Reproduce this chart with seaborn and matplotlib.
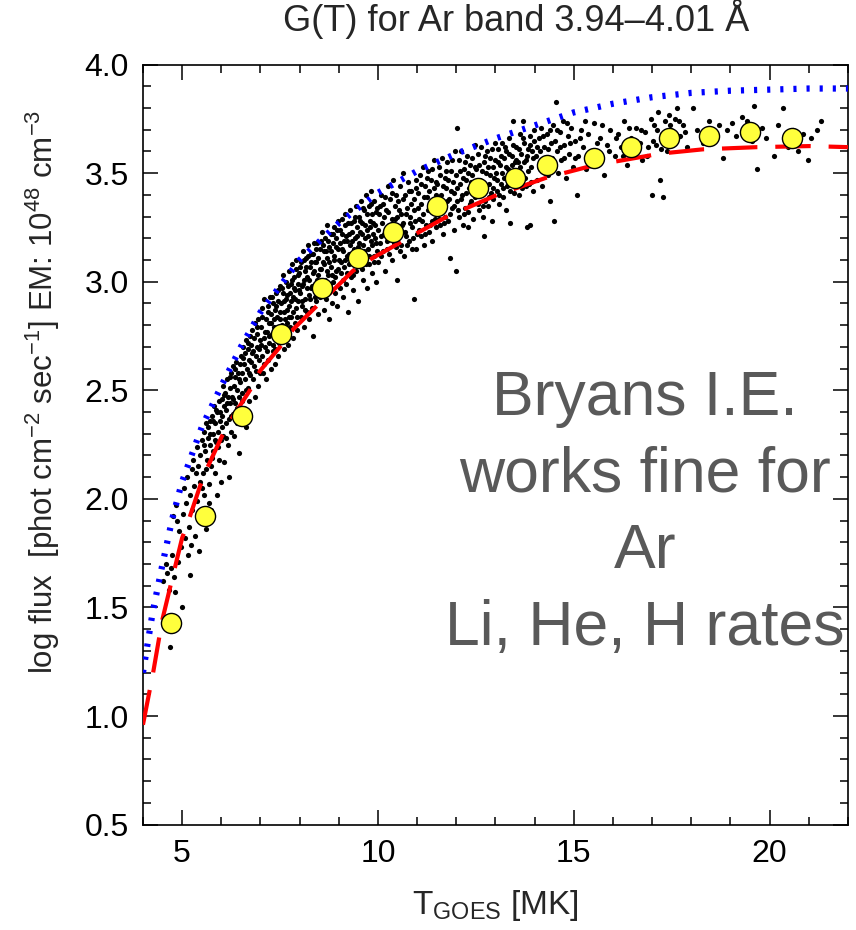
import matplotlib
matplotlib.use("Agg")
import numpy as np
import pandas as pd
import seaborn as sns
import matplotlib.pyplot as plt
from matplotlib.ticker import MultipleLocator, FormatStrFormatter

# binned medians (yellow circles)
bin_t = [4.71, 5.58, 6.53, 7.52, 8.57, 9.49, 10.38, 11.51, 12.55, 13.50,
         14.31, 15.51, 16.46, 17.43, 18.45, 19.50, 20.57]
bin_flux = [1.43, 1.92, 2.38, 2.76, 2.97, 3.11, 3.23, 3.35, 3.43, 3.48,
            3.54, 3.57, 3.62, 3.66, 3.67, 3.69, 3.66]

# blue dotted curve
blue_t = [4.0, 4.25, 4.5, 4.75, 5.0, 5.5, 6.0, 6.5, 7.0, 7.5, 8.0, 9.0, 10.0,
          11.0, 12.0, 13.0, 14.0, 15.0, 16.0, 17.0, 18.0, 19.0, 20.0, 21.0, 22.0]
blue_flux = [1.20, 1.48, 1.70, 1.91, 2.08, 2.33, 2.52, 2.70, 2.86, 2.98, 3.10,
             3.27, 3.41, 3.51, 3.59, 3.66, 3.72, 3.78, 3.82, 3.85, 3.87, 3.88,
             3.885, 3.89, 3.89]

# red dashed curve
red_t = [4.0, 4.26, 4.49, 4.69, 5.0, 5.2, 5.46, 5.66, 6.02, 6.3, 6.73, 6.99,
         7.5, 7.83, 8.39, 8.85, 9.36, 9.87, 10.56, 11.76, 13.04, 14.31, 15.59,
         16.1, 17.2, 18.3, 19.68, 21.03, 22.0]
red_flux = [0.96, 1.20, 1.44, 1.59, 1.82, 1.92, 2.06, 2.15, 2.29, 2.38, 2.50,
            2.59, 2.70, 2.78, 2.88, 2.96, 3.05, 3.11, 3.18, 3.30, 3.40, 3.48,
            3.54, 3.555, 3.59, 3.61, 3.62, 3.625, 3.62]

# individual flare points (T, log flux)
cloud_cool = [
    (4.52, 1.62), (4.58, 1.70), (4.61, 1.66), (4.66, 1.58), (4.69, 1.32), (4.72, 1.68), (4.74, 1.74),
    (4.77, 1.92), (4.79, 1.64), (4.82, 1.57), (4.84, 1.97), (4.87, 1.90), (4.90, 1.71), (4.93, 1.85),
    (4.96, 1.78), (4.99, 1.50), (5.02, 1.93), (5.04, 2.05), (5.07, 1.82), (5.09, 1.98), (5.12, 2.10),
    (5.15, 1.74), (5.18, 1.87), (5.20, 1.65), (5.21, 2.02), (5.23, 1.79), (5.24, 2.14), (5.26, 1.95),
    (5.28, 2.18), (5.30, 2.06), (5.32, 1.83), (5.35, 2.12), (5.37, 2.24), (5.39, 1.99), (5.41, 2.15),
    (5.43, 1.76), (5.45, 2.08), (5.46, 2.20), (5.48, 1.90), (5.51, 2.27), (5.53, 2.12), (5.55, 2.31),
    (5.57, 2.02), (5.58, 2.22), (5.60, 2.35), (5.62, 1.86), (5.64, 2.18), (5.66, 2.28), (5.68, 2.07),
    (5.70, 2.36), (5.71, 2.25), (5.73, 1.95), (5.74, 2.15), (5.76, 2.38), (5.78, 2.30), (5.79, 2.22),
    (5.81, 2.43), (5.83, 2.12), (5.85, 2.35), (5.86, 2.26), (5.88, 2.02), (5.90, 2.40), (5.91, 2.31),
    (5.93, 2.18), (5.95, 2.45), (5.96, 2.36), (5.98, 2.27), (5.99, 2.08), (6.01, 2.46), (6.02, 2.38),
    (6.04, 2.52), (6.05, 2.29), (6.07, 2.43), (6.08, 2.17), (6.10, 2.49), (6.11, 2.35), (6.13, 2.41),
    (6.14, 2.55), (6.16, 2.25), (6.17, 2.47), (6.19, 2.37), (6.20, 2.10), (6.22, 2.51), (6.23, 2.44),
    (6.24, 2.31), (6.26, 2.58), (6.27, 2.47), (6.29, 2.39), (6.30, 2.61), (6.32, 2.52), (6.33, 2.29),
    (6.35, 2.56), (6.36, 2.44), (6.38, 2.63), (6.39, 2.35), (6.41, 2.50), (6.42, 2.58), (6.44, 2.21),
    (6.45, 2.47), (6.47, 2.62), (6.48, 2.40), (6.49, 2.54), (6.51, 2.66), (6.52, 2.58), (6.54, 2.49),
    (6.55, 2.70), (6.57, 2.62), (6.58, 2.42), (6.60, 2.67), (6.61, 2.55), (6.63, 2.73), (6.64, 2.33),
    (6.66, 2.60), (6.67, 2.69), (6.69, 2.51), (6.70, 2.64), (6.72, 2.45), (6.73, 2.75), (6.74, 2.57),
    (6.76, 2.71), (6.77, 2.63), (6.79, 2.78), (6.80, 2.55), (6.82, 2.68), (6.83, 2.74), (6.85, 2.47),
    (6.86, 2.81), (6.88, 2.66), (6.89, 2.59), (6.91, 2.76), (6.92, 2.70), (6.94, 2.52), (6.95, 2.83),
    (6.97, 2.64), (6.98, 2.73), (6.99, 2.58),
    (5.52, 2.05), (5.56, 2.25), (5.61, 2.14), (5.65, 2.33), (5.69, 1.98), (5.72, 2.30), (5.77, 2.19),
    (5.80, 2.36), (5.84, 2.27), (5.87, 2.41), (5.92, 2.24), (5.97, 2.40), (6.03, 2.33), (6.06, 2.48),
    (6.12, 2.28), (6.15, 2.44), (6.21, 2.56), (6.25, 2.38), (6.31, 2.46), (6.34, 2.60), (6.40, 2.42),
    (6.46, 2.55), (6.53, 2.45), (6.56, 2.65), (6.62, 2.50), (6.68, 2.72), (6.71, 2.58), (6.78, 2.67),
    (6.84, 2.61), (6.90, 2.79), (6.96, 2.69),
]
cloud_mid = [
    (7.01, 2.79), (7.03, 2.66), (7.04, 2.88), (7.06, 2.58), (7.08, 2.74), (7.09, 2.92), (7.11, 2.70),
    (7.13, 2.83), (7.14, 2.55), (7.16, 2.77), (7.18, 2.89), (7.19, 2.64), (7.21, 2.81), (7.23, 2.72),
    (7.24, 2.93), (7.26, 2.60), (7.28, 2.85), (7.29, 2.76), (7.31, 2.68), (7.33, 2.90), (7.34, 2.79),
    (7.36, 2.62), (7.38, 2.87), (7.39, 2.95), (7.41, 2.73), (7.43, 2.84), (7.44, 2.66), (7.46, 2.91),
    (7.48, 2.78), (7.49, 2.98), (7.51, 2.86), (7.52, 2.73), (7.54, 2.97), (7.56, 2.80), (7.57, 3.03),
    (7.59, 2.69), (7.61, 2.91), (7.62, 2.83), (7.64, 3.00), (7.66, 2.76), (7.67, 2.94), (7.69, 2.87),
    (7.71, 2.71), (7.72, 3.05), (7.74, 2.89), (7.76, 2.79), (7.77, 2.99), (7.79, 2.84), (7.81, 3.08),
    (7.82, 2.74), (7.84, 2.93), (7.86, 3.02), (7.87, 2.81), (7.89, 2.96), (7.91, 2.88), (7.92, 3.10),
    (7.94, 2.78), (7.96, 2.99), (7.97, 2.91), (7.99, 3.04), (8.01, 2.95), (8.03, 2.84), (8.04, 3.09),
    (8.06, 2.89), (8.08, 3.14), (8.09, 2.99), (8.11, 2.79), (8.13, 3.05), (8.14, 2.92), (8.16, 3.11),
    (8.18, 2.86), (8.19, 3.02), (8.21, 3.17), (8.23, 2.94), (8.24, 2.83), (8.26, 3.07), (8.28, 2.97),
    (8.29, 3.13), (8.31, 2.88), (8.33, 3.04), (8.34, 2.75), (8.36, 3.18), (8.38, 2.99), (8.39, 3.09),
    (8.41, 2.91), (8.43, 3.15), (8.44, 3.01), (8.46, 2.85), (8.48, 3.11), (8.49, 2.96), (8.51, 3.06),
    (8.53, 2.93), (8.54, 3.19), (8.56, 2.98), (8.58, 3.23), (8.59, 3.09), (8.61, 2.87), (8.63, 3.14),
    (8.64, 3.01), (8.66, 3.20), (8.68, 2.92), (8.69, 3.11), (8.71, 3.26), (8.73, 3.03), (8.74, 2.83),
    (8.76, 3.16), (8.78, 2.97), (8.79, 3.22), (8.81, 3.07), (8.83, 2.90), (8.84, 3.18), (8.86, 3.00),
    (8.88, 3.25), (8.89, 3.12), (8.91, 2.95), (8.93, 3.20), (8.94, 3.05), (8.96, 2.89), (8.98, 3.15),
    (8.99, 3.28), (9.01, 3.10), (9.03, 2.97), (9.04, 3.24), (9.06, 3.04), (9.08, 3.29), (9.09, 3.15),
    (9.11, 2.93), (9.13, 3.19), (9.14, 3.07), (9.16, 3.31), (9.18, 2.99), (9.19, 3.21), (9.21, 3.12),
    (9.23, 2.86), (9.24, 3.27), (9.26, 3.08), (9.28, 3.17), (9.29, 3.33), (9.31, 3.02), (9.33, 3.23),
    (9.34, 3.13), (9.36, 2.96), (9.38, 3.28), (9.39, 3.10), (9.41, 3.20), (9.43, 3.35), (9.44, 3.05),
    (9.46, 3.25), (9.48, 2.91), (9.49, 3.16), (9.51, 3.30), (9.53, 3.13), (9.54, 3.23), (9.56, 3.37),
    (9.58, 3.06), (9.59, 3.27), (9.61, 3.17), (9.63, 3.01), (9.64, 3.33), (9.66, 3.20), (9.68, 3.10),
    (9.69, 3.40), (9.71, 3.24), (9.73, 2.97), (9.74, 3.15), (9.76, 3.35), (9.78, 3.08), (9.79, 3.28),
    (9.81, 3.19), (9.83, 3.42), (9.84, 3.04), (9.86, 3.31), (9.88, 3.22), (9.89, 3.12), (9.91, 3.37),
    (9.93, 3.26), (9.94, 3.00), (9.96, 3.18), (9.98, 3.34), (9.99, 3.09),
    (7.02, 2.71), (7.05, 2.84), (7.10, 2.62), (7.12, 2.77), (7.17, 2.68), (7.20, 2.86), (7.22, 2.75),
    (7.27, 2.81), (7.30, 2.93), (7.32, 2.71), (7.35, 2.83), (7.37, 2.69), (7.40, 2.89), (7.42, 2.78),
    (7.45, 2.96), (7.47, 2.72), (7.50, 2.83), (7.53, 2.90), (7.55, 2.77), (7.58, 2.95), (7.60, 2.86),
    (7.63, 2.74), (7.65, 2.92), (7.68, 2.81), (7.70, 2.98), (7.73, 2.84), (7.75, 2.95), (7.78, 2.91),
    (7.80, 3.01), (7.83, 2.86), (7.85, 2.97), (7.88, 2.92), (7.90, 3.06), (7.93, 2.84), (7.95, 3.03),
    (7.98, 2.96), (8.02, 3.07), (8.05, 2.98), (8.07, 2.91), (8.10, 3.10), (8.12, 3.01), (8.15, 2.87),
    (8.17, 3.07), (8.20, 2.97), (8.22, 3.12), (8.25, 3.01), (8.27, 2.92), (8.30, 3.09), (8.32, 2.98),
    (8.35, 3.13), (8.37, 3.05), (8.40, 2.93), (8.42, 3.09), (8.45, 3.18), (8.47, 3.03), (8.50, 2.99),
    (8.52, 3.15), (8.55, 3.06), (8.57, 2.95), (8.60, 3.17), (8.62, 3.08), (8.65, 2.97), (8.67, 3.14),
    (8.70, 3.05), (8.72, 3.19), (8.75, 3.09), (8.77, 2.99), (8.80, 3.14), (8.82, 3.03), (8.85, 3.22),
    (8.87, 3.10), (8.90, 3.02), (8.92, 3.16), (8.95, 3.24), (8.97, 3.06), (9.02, 3.18), (9.05, 3.09),
    (9.07, 3.22), (9.10, 3.01), (9.12, 3.14), (9.15, 3.26), (9.17, 3.10), (9.20, 3.19), (9.22, 3.04),
    (9.25, 3.22), (9.27, 3.13), (9.30, 3.27), (9.32, 3.09), (9.35, 3.19), (9.37, 3.03), (9.40, 3.15),
    (9.42, 3.30), (9.45, 3.11), (9.47, 3.21), (9.52, 3.18), (9.55, 3.28), (9.57, 3.12), (9.60, 3.22),
    (9.62, 3.34), (9.65, 3.14), (9.67, 3.26), (9.70, 3.08), (9.72, 3.31), (9.75, 3.21), (9.77, 3.12),
    (9.80, 3.25), (9.82, 3.36), (9.85, 3.17), (9.87, 3.27), (9.90, 3.09), (9.92, 3.20), (9.95, 3.32),
    (9.97, 3.14),
]
cloud_warm = [
    (10.02, 3.31), (10.04, 3.18), (10.07, 3.40), (10.09, 3.12), (10.11, 3.27), (10.14, 3.36),
    (10.16, 3.22), (10.18, 3.05), (10.21, 3.33), (10.23, 3.15), (10.25, 3.44), (10.28, 3.26),
    (10.30, 3.20), (10.32, 3.38), (10.35, 3.10), (10.37, 3.29), (10.39, 3.47), (10.42, 3.23),
    (10.44, 3.35), (10.46, 3.16), (10.48, 3.30), (10.49, 3.01), (10.51, 3.37), (10.53, 3.24),
    (10.56, 3.44), (10.58, 3.17), (10.60, 3.31), (10.63, 3.50), (10.65, 3.27), (10.67, 3.12),
    (10.70, 3.40), (10.72, 3.21), (10.74, 3.34), (10.77, 3.46), (10.79, 3.19), (10.81, 3.30),
    (10.84, 3.42), (10.86, 3.25), (10.88, 3.15), (10.91, 3.38), (10.93, 2.92), (10.95, 3.28),
    (10.97, 3.47), (10.99, 3.22), (11.02, 3.41), (11.04, 3.29), (11.07, 3.49), (11.09, 3.21),
    (11.11, 3.36), (11.14, 3.53), (11.16, 3.31), (11.18, 3.17), (11.21, 3.44), (11.23, 3.26),
    (11.25, 3.39), (11.28, 3.51), (11.30, 3.23), (11.32, 3.34), (11.35, 3.47), (11.37, 3.28),
    (11.39, 3.19), (11.42, 3.43), (11.44, 3.56), (11.46, 3.32), (11.48, 3.40), (11.49, 3.25),
    (11.51, 3.45), (11.53, 3.33), (11.56, 3.53), (11.58, 3.26), (11.60, 3.40), (11.63, 3.57),
    (11.65, 3.36), (11.67, 3.22), (11.70, 3.48), (11.72, 3.30), (11.74, 3.43), (11.77, 3.55),
    (11.79, 3.28), (11.81, 3.38), (11.84, 3.11), (11.86, 3.51), (11.88, 3.34), (11.91, 3.46),
    (11.93, 3.24), (11.95, 3.41), (11.97, 3.60), (11.99, 3.05), (12.01, 3.71), (12.03, 3.37),
    (12.06, 3.56), (12.08, 3.30), (12.10, 3.45), (12.13, 3.60), (12.15, 3.40), (12.17, 3.26),
    (12.20, 3.52), (12.22, 3.34), (12.24, 3.47), (12.27, 3.58), (12.29, 3.32), (12.30, 3.25),
    (12.33, 3.43), (12.35, 3.54), (12.38, 3.37), (12.40, 3.49), (12.42, 3.29), (12.44, 3.44),
    (12.47, 3.63), (12.49, 3.39), (12.51, 3.52), (12.53, 3.40), (12.56, 3.59), (12.58, 3.33),
    (12.60, 3.47), (12.63, 3.62), (12.65, 3.43), (12.67, 3.30), (12.70, 3.21), (12.72, 3.55),
    (12.74, 3.37), (12.77, 3.50), (12.79, 3.60), (12.81, 3.35), (12.84, 3.45), (12.86, 3.57),
    (12.88, 3.41), (12.91, 3.28), (12.93, 3.53), (12.95, 3.38), (12.97, 3.48), (12.99, 3.64),
    (13.02, 3.50), (13.04, 3.42), (13.07, 3.61), (13.09, 3.36), (13.11, 3.54), (13.14, 3.45),
    (13.16, 3.64), (13.18, 3.39), (13.21, 3.57), (13.23, 3.48), (13.26, 3.33), (13.28, 3.60),
    (13.30, 3.44), (13.33, 3.52), (13.35, 3.66), (13.38, 3.27), (13.40, 3.47), (13.43, 3.58),
    (13.45, 3.74), (13.47, 3.41), (13.49, 3.55), (13.52, 3.62), (13.54, 3.46), (13.57, 3.55),
    (13.59, 3.40), (13.62, 3.68), (13.64, 3.50), (13.66, 3.59), (13.69, 3.43), (13.70, 3.74),
    (13.72, 3.64), (13.75, 3.48), (13.77, 3.56), (13.80, 3.25), (13.82, 3.61), (13.85, 3.45),
    (13.87, 3.67), (13.89, 3.26), (13.92, 3.53), (13.94, 3.60), (13.97, 3.42), (13.99, 3.70),
    (10.01, 3.24), (10.05, 3.35), (10.08, 3.21), (10.12, 3.14), (10.15, 3.30), (10.19, 3.39),
    (10.22, 3.19), (10.26, 3.32), (10.29, 3.13), (10.33, 3.25), (10.36, 3.41), (10.40, 3.18),
    (10.43, 3.29), (10.47, 3.40), (10.50, 3.22), (10.54, 3.33), (10.57, 3.14), (10.61, 3.26),
    (10.64, 3.38), (10.68, 3.23), (10.71, 3.31), (10.75, 3.17), (10.78, 3.42), (10.82, 3.27),
    (10.85, 3.36), (10.89, 3.20), (10.92, 3.33), (10.96, 3.43), (10.98, 3.15), (11.03, 3.34),
    (11.06, 3.24), (11.10, 3.45), (11.13, 3.28), (11.17, 3.39), (11.20, 3.22), (11.24, 3.48),
    (11.27, 3.33), (11.31, 3.42), (11.34, 3.26), (11.38, 3.52), (11.41, 3.36), (11.45, 3.29),
    (11.47, 3.46), (11.52, 3.38), (11.55, 3.29), (11.59, 3.49), (11.62, 3.33), (11.66, 3.44),
    (11.69, 3.27), (11.73, 3.51), (11.76, 3.37), (11.80, 3.47), (11.83, 3.31), (11.87, 3.42),
    (11.90, 3.56), (11.94, 3.35), (11.98, 3.49), (12.02, 3.43), (12.05, 3.33), (12.09, 3.51),
    (12.12, 3.38), (12.16, 3.48), (12.19, 3.31), (12.23, 3.55), (12.26, 3.41), (12.31, 3.50),
    (12.34, 3.36), (12.37, 3.46), (12.41, 3.57), (12.45, 3.40), (12.48, 3.53), (12.52, 3.45),
    (12.55, 3.36), (12.59, 3.54), (12.62, 3.41), (12.66, 3.51), (12.69, 3.35), (12.73, 3.58),
    (12.76, 3.44), (12.80, 3.53), (12.83, 3.39), (12.87, 3.49), (12.90, 3.61), (12.94, 3.43),
    (12.98, 3.56), (13.03, 3.47), (13.06, 3.55), (13.10, 3.40), (13.13, 3.58), (13.17, 3.50),
    (13.20, 3.43), (13.24, 3.62), (13.27, 3.53), (13.31, 3.46), (13.34, 3.59), (13.37, 3.42),
    (13.41, 3.54), (13.44, 3.63), (13.48, 3.48), (13.53, 3.56), (13.56, 3.44), (13.60, 3.61),
    (13.63, 3.53), (13.67, 3.47), (13.71, 3.66), (13.74, 3.55), (13.78, 3.44), (13.81, 3.58),
    (13.84, 3.51), (13.88, 3.63), (13.91, 3.46), (13.95, 3.57), (13.98, 3.65),
]
cloud_hot = [
    (14.03, 3.58), (14.06, 3.47), (14.10, 3.66), (14.13, 3.52), (14.17, 3.71), (14.20, 3.44),
    (14.24, 3.62), (14.27, 3.55), (14.31, 3.68), (14.34, 3.49), (14.38, 3.37), (14.41, 3.64),
    (14.45, 3.57), (14.48, 3.72), (14.50, 3.28), (14.54, 3.83), (14.56, 3.60), (14.60, 3.50),
    (14.64, 3.69), (14.68, 3.56), (14.72, 3.74), (14.76, 3.63), (14.80, 3.48), (14.85, 3.67),
    (14.89, 3.59), (14.94, 3.71), (14.98, 3.53), (15.04, 3.65), (15.08, 3.40), (15.12, 3.58),
    (15.18, 3.70), (15.24, 3.62), (15.30, 3.52), (15.37, 3.68), (15.44, 3.60), (15.52, 3.73),
    (15.60, 3.55), (15.68, 3.66), (15.76, 3.49), (15.85, 3.63), (15.93, 3.70), (16.04, 3.58),
    (16.12, 3.68), (16.20, 3.62), (16.28, 3.74), (16.36, 3.54), (16.45, 3.66), (16.52, 3.60),
    (16.60, 3.71), (16.68, 3.64), (16.75, 3.56), (16.83, 3.69), (16.90, 3.62), (16.96, 3.75),
    (17.00, 3.40), (17.05, 3.72), (17.10, 3.63), (17.15, 3.78), (17.20, 3.47), (17.25, 3.68),
    (17.28, 3.39), (17.32, 3.74), (17.38, 3.60), (17.43, 3.77), (17.48, 3.70), (17.53, 3.64),
    (17.58, 3.75), (17.63, 3.80), (17.70, 3.67), (17.78, 3.72), (17.90, 3.62), (18.04, 3.80),
    (18.15, 3.70), (18.30, 3.64), (18.45, 3.74), (18.58, 3.66), (18.70, 3.72), (18.80, 3.57),
    (18.92, 3.70), (19.05, 3.73), (19.15, 3.67), (19.30, 3.76), (19.42, 3.74), (19.55, 3.65),
    (19.60, 3.81), (19.68, 3.52), (19.80, 3.71), (19.92, 3.66), (20.10, 3.58), (20.22, 3.72),
    (20.35, 3.80), (20.48, 3.62), (20.60, 3.70), (20.72, 3.60), (20.85, 3.68), (20.98, 3.56),
    (21.05, 3.66), (21.20, 3.70), (21.30, 3.74),
    (14.05, 3.62), (14.11, 3.53), (14.15, 3.60), (14.22, 3.67), (14.26, 3.50), (14.33, 3.61),
    (14.39, 3.70), (14.44, 3.52), (14.52, 3.65), (14.58, 3.70), (14.66, 3.62), (14.74, 3.57),
    (14.82, 3.73), (14.91, 3.64), (15.02, 3.57), (15.15, 3.66), (15.28, 3.74), (15.41, 3.55),
    (15.58, 3.64), (15.72, 3.72), (15.90, 3.60), (16.08, 3.66), (16.25, 3.58), (16.41, 3.71),
    (16.58, 3.65), (16.72, 3.70), (16.88, 3.58), (17.02, 3.65), (17.12, 3.70), (17.22, 3.61),
    (17.35, 3.68), (17.45, 3.72), (17.55, 3.67), (17.68, 3.74), (17.85, 3.69),
]

note_lines = ["Bryans I.E.", "works fine for", "Ar", "Li, He, H rates"]

sns.set_theme(style="ticks")
plt.rcParams["font.family"] = ["Liberation Sans", "DejaVu Sans"]
plt.rcParams["mathtext.fontset"] = "custom"
plt.rcParams["mathtext.rm"] = "Liberation Sans"
plt.rcParams["mathtext.default"] = "rm"

fig = plt.figure(figsize=(8.56, 9.30), dpi=100)
ax = fig.add_axes([0.167, 0.1133, 0.8236, 0.8172])

cloud = pd.DataFrame(cloud_cool + cloud_mid + cloud_warm + cloud_hot, columns=["T", "flux"])
sns.scatterplot(data=cloud, x="T", y="flux", ax=ax, color="black", s=14, linewidth=0, zorder=2)

sns.lineplot(x=blue_t, y=blue_flux, ax=ax, sort=False, estimator=None, color="#0000ff",
             linewidth=4.5, linestyle=(0, (0.5, 1.6)), zorder=3)
sns.lineplot(x=red_t, y=red_flux, ax=ax, sort=False, estimator=None, color="#ff0000",
             linewidth=3.0, linestyle=(0, (8.5, 4.3)), zorder=3)

sns.scatterplot(x=bin_t, y=bin_flux, ax=ax, s=210, color="#ffff3c", edgecolor="black",
                linewidth=1.0, zorder=4)

ax.set_xlim(4, 22)
ax.set_ylim(0.5, 4.0)
ax.xaxis.set_major_locator(MultipleLocator(5))
ax.xaxis.set_minor_locator(MultipleLocator(1))
ax.yaxis.set_major_locator(MultipleLocator(0.5))
ax.yaxis.set_minor_locator(MultipleLocator(0.1))
ax.yaxis.set_major_formatter(FormatStrFormatter("%.1f"))
ax.tick_params(which="both", direction="in", top=True, right=True, width=1.1,
               labelsize=23, colors="black")
ax.tick_params(which="major", length=11, pad=10)
ax.tick_params(which="minor", length=6)
for sp in ax.spines.values():
    sp.set_linewidth(1.2)
    sp.set_color("black")

ax.set_xlabel("T$_{\\mathrm{GOES}}$ [MK]", fontsize=24, labelpad=14)
ax.set_ylabel("log flux  [phot cm$^{-2}$ sec$^{-1}$] EM: 10$^{48}$ cm$^{-3}$", fontsize=22.5)
ax.yaxis.set_label_coords(-0.115, 0.57)
ax.set_title("G(T) for Ar band 3.94\u20134.01 \u00c5", fontsize=26, pad=24, x=0.53)

for i, line in enumerate(note_lines):
    ax.text(0.712, 0.539 - i * 0.1009, line, transform=ax.transAxes, ha="center",
            va="baseline", fontsize=45, color="#595959", zorder=5)

fig.savefig("out.png", dpi=100)
